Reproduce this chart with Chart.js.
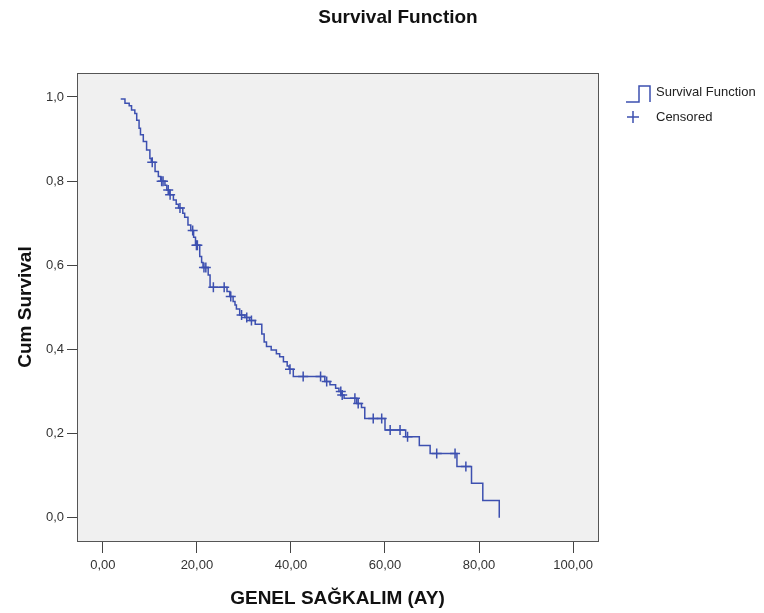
<!DOCTYPE html>
<html>
<head>
<meta charset="utf-8">
<script src="https://cdn.jsdelivr.net/npm/chart.js@4"></script>
<style>
  html, body { margin: 0; padding: 0; background: #fff; }
  #wrap { width: 764px; height: 613px; }
</style>
</head>
<body>
<div id="wrap"><canvas id="kmChart" width="764" height="613"></canvas></div>
<script>
// Kaplan-Meier steps: event time (months) and cumulative survival after it
const eventTimes = [3.8, 4.7, 5.6, 6.1, 6.8, 7.2, 7.7, 8.0, 8.6, 9.3,
  10.0, 10.3, 11.1, 11.8, 12.3, 13.2, 13.6, 14.2, 15.0, 15.6,
  16.1, 17.0, 17.4, 18.1, 18.7, 19.3, 19.7, 20.6, 21.0, 21.3,
  22.4, 22.8, 26.4, 27.0, 27.7, 28.1, 28.4, 29.1, 30.2, 31.2,
  32.4, 33.8, 34.3, 34.8, 35.8, 36.9, 37.6, 38.4, 39.2, 39.6,
  40.5, 47.2, 48.3, 49.5, 50.2, 50.8, 51.3, 54.0, 55.0, 55.7,
  60.0, 64.4, 67.3, 69.6, 75.3, 78.4, 80.8, 84.3];
const cumSurvival = [0.995, 0.985, 0.979, 0.969, 0.961, 0.945, 0.926, 0.910, 0.894, 0.874,
  0.854, 0.845, 0.823, 0.811, 0.800, 0.790, 0.779, 0.768, 0.755, 0.745,
  0.736, 0.724, 0.714, 0.696, 0.683, 0.667, 0.648, 0.621, 0.607, 0.595,
  0.577, 0.548, 0.538, 0.526, 0.514, 0.506, 0.496, 0.482, 0.476, 0.469,
  0.460, 0.437, 0.418, 0.407, 0.399, 0.390, 0.383, 0.371, 0.361, 0.353,
  0.336, 0.324, 0.316, 0.308, 0.300, 0.292, 0.284, 0.272, 0.262, 0.236,
  0.209, 0.193, 0.172, 0.153, 0.122, 0.082, 0.041, 0.0];

// censored observations (months)
const censoredTimes = [10.5, 12.5, 12.8, 13.9, 14.3, 16.4, 19.1, 19.9, 20.1, 21.5,
  21.9, 23.5, 25.8, 27.2, 29.5, 30.6, 31.6, 39.8, 42.6, 46.3,
  47.6, 50.6, 50.9, 53.6, 54.3, 57.5, 59.3, 61.1, 63.2, 64.8,
  71.0, 74.9, 77.2];

const xTicks = [0, 20, 40, 60, 80, 100];
const yTicks = [0, 0.2, 0.4, 0.6, 0.8, 1.0];

const blue = '#3d50b0';
const fontFamily = '"Liberation Sans", Arial, sans-serif';

// survival level in effect at time t
function levelAt(t) {
  let s = 1;
  for (let i = 0; i < eventTimes.length; i++) {
    if (eventTimes[i] <= t) s = cumSurvival[i];
  }
  return s;
}

const stepData = eventTimes.map((t, i) => ({ x: t, y: cumSurvival[i] }));
const censData = censoredTimes.map(t => ({ x: t, y: levelAt(t) }));

const decor = {
  id: 'decor',
  beforeDraw(chart) {
    const { ctx, chartArea: a } = chart;
    ctx.save();
    ctx.fillStyle = '#f0f0f0';
    ctx.fillRect(a.left, a.top, a.right - a.left, a.bottom - a.top);
    ctx.restore();
  },
  afterDraw(chart) {
    const { ctx, chartArea: a } = chart;
    ctx.save();
    ctx.strokeStyle = '#555';
    ctx.lineWidth = 1;
    ctx.strokeRect(a.left + 0.5, a.top + 0.5, a.right - a.left, a.bottom - a.top);

    ctx.fillStyle = '#111';
    ctx.font = 'bold 19px ' + fontFamily;
    ctx.textAlign = 'center';
    ctx.textBaseline = 'middle';
    ctx.fillText('Survival Function', 398, 18);

    // legend
    ctx.strokeStyle = blue;
    ctx.lineWidth = 1.5;
    ctx.beginPath();
    ctx.moveTo(626, 102);
    ctx.lineTo(639, 102);
    ctx.lineTo(639, 86);
    ctx.lineTo(650, 86);
    ctx.lineTo(650, 102);
    ctx.stroke();
    ctx.beginPath();
    ctx.moveTo(627, 117); ctx.lineTo(639, 117);
    ctx.moveTo(633, 111); ctx.lineTo(633, 123);
    ctx.stroke();
    ctx.fillStyle = '#222';
    ctx.font = '13px ' + fontFamily;
    ctx.textAlign = 'left';
    ctx.fillText('Survival Function', 656, 92);
    ctx.fillText('Censored', 656, 117);
    ctx.restore();
  }
};

new Chart(document.getElementById('kmChart').getContext('2d'), {
  type: 'line',
  data: {
    datasets: [{
      label: 'Survival Function', data: stepData, borderColor: blue, borderWidth: 1.5,
      stepped: 'before', pointRadius: 0, fill: false
    }, {
      label: 'Censored', data: censData, showLine: false, borderColor: blue,
      pointStyle: 'cross', pointRadius: 5, pointBorderWidth: 1.5, pointBorderColor: blue
    }]
  },
  options: {
    responsive: false, animation: false,
    layout: { padding: { top: 73, right: 166, left: 0, bottom: 0 } },
    plugins: { legend: { display: false }, tooltip: { enabled: false } },
    scales: {
      x: {
        type: 'linear', min: -5.5, max: 105.3,
        afterBuildTicks: s => { s.ticks = xTicks.map(v => ({ value: v })); },
        afterFit: s => { s.height = 72; },
        grid: { drawOnChartArea: false, drawTicks: true, tickLength: 12, color: '#444' },
        border: { display: false },
        ticks: {
          padding: 5, color: '#333', font: { family: fontFamily, size: 13 },
          callback: v => v.toFixed(2).replace('.', ',')
        },
        title: {
          display: true, text: 'GENEL SAĞKALIM (AY)', color: '#111',
          font: { family: fontFamily, size: 19, weight: 'bold' },
          padding: { top: 0, bottom: 3 }
        }
      },
      y: {
        type: 'linear', min: -0.055, max: 1.057,
        afterBuildTicks: s => { s.ticks = yTicks.map(v => ({ value: v })); },
        afterFit: s => { s.width = 77; },
        grid: { drawOnChartArea: false, drawTicks: true, tickLength: 10, color: '#444' },
        border: { display: false },
        ticks: {
          padding: 3, color: '#333', font: { family: fontFamily, size: 13 },
          callback: v => v.toFixed(1).replace('.', ',')
        },
        title: {
          display: true, text: 'Cum Survival', color: '#111',
          font: { family: fontFamily, size: 19, weight: 'bold' },
          padding: { top: 14, bottom: 0 }
        }
      }
    }
  },
  plugins: [decor]
});
</script>
</body>
</html>
